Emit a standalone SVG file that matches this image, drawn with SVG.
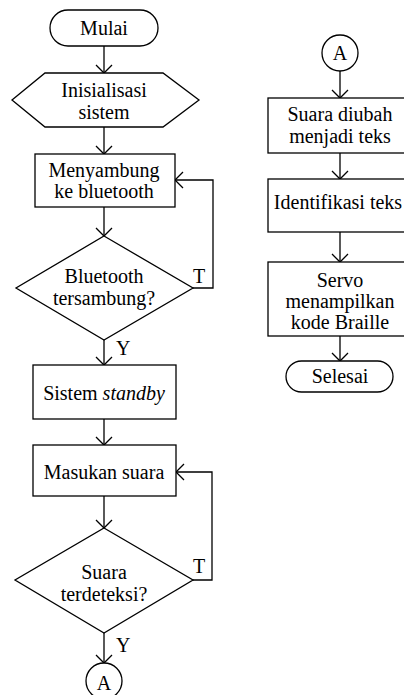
<svg xmlns="http://www.w3.org/2000/svg" width="404" height="695" viewBox="0 0 404 695">
<style>
.s{fill:#fff;stroke:#000;stroke-width:1.3}
.c{fill:none;stroke:#000;stroke-width:1.3}
text{font-family:"Liberation Serif","Times New Roman",serif;font-size:20px;fill:#000}
.m{text-anchor:middle}
</style>
<defs>
<marker id="arr" markerUnits="userSpaceOnUse" markerWidth="20" markerHeight="20" refX="10" refY="10" orient="auto">
<path d="M2,2 L10,10 L2,18" fill="none" stroke="#000" stroke-width="1.3"/>
</marker>
</defs>
<rect width="404" height="695" fill="#fff"/>
<g id="connectors">
<path class="c" d="M104,46 V73" marker-end="url(#arr)"/>
<path class="c" d="M104,127 V154" marker-end="url(#arr)"/>
<path class="c" d="M104,207 V236" marker-end="url(#arr)"/>
<path class="c" d="M193,288 H213 V180 H175" marker-end="url(#arr)"/>
<path class="c" d="M104,340 V365" marker-end="url(#arr)"/>
<path class="c" d="M104,419 V445" marker-end="url(#arr)"/>
<path class="c" d="M104,496 V528" marker-end="url(#arr)"/>
<path class="c" d="M193,580 H212 V472 H176" marker-end="url(#arr)"/>
<path class="c" d="M104,633 V663" marker-end="url(#arr)"/>
<path class="c" d="M340,71 V98" marker-end="url(#arr)"/>
<path class="c" d="M340,153 V179" marker-end="url(#arr)"/>
<path class="c" d="M340,232 V262" marker-end="url(#arr)"/>
<path class="c" d="M340,336 V361" marker-end="url(#arr)"/>
<text x="193" y="283">T</text>
<text x="116" y="355">Y</text>
<text x="193" y="573">T</text>
<text x="116" y="652">Y</text>
</g>
<g id="mulai">
<rect class="s" x="50" y="10" width="108" height="36" rx="18"/>
<text class="m" x="104" y="35">Mulai</text>
</g>
<g id="inisialisasi">
<polygon class="s" points="12,100 45,73 163,73 199,100 163,127 45,127"/>
<text class="m" x="104" y="97">Inisialisasi</text>
<text class="m" x="104" y="119">sistem</text>
</g>
<g id="menyambung">
<rect class="s" x="35" y="154" width="140" height="53"/>
<text class="m" x="104" y="177">Menyambung</text>
<text class="m" x="104" y="198">ke bluetooth</text>
</g>
<g id="cek-bluetooth">
<polygon class="s" points="104,236 193,288 104,340 16,288"/>
<text class="m" x="104" y="283">Bluetooth</text>
<text class="m" x="104" y="305">tersambung?</text>
</g>
<g id="standby">
<rect class="s" x="33" y="365" width="143" height="54"/>
<text class="m" x="104" y="400">Sistem <tspan font-style="italic">standby</tspan></text>
</g>
<g id="masukan">
<rect class="s" x="33" y="445" width="143" height="51"/>
<text class="m" x="104" y="479">Masukan suara</text>
</g>
<g id="cek-suara">
<polygon class="s" points="104,528 193,580 104,633 15,580"/>
<text class="m" x="104" y="579">Suara</text>
<text class="m" x="104" y="601">terdeteksi?</text>
</g>
<g id="konektor-a1">
<circle class="s" cx="104" cy="681" r="18"/>
<text class="m" x="104" y="690">A</text>
</g>
<g id="konektor-a2">
<circle class="s" cx="340" cy="53" r="18"/>
<text class="m" x="340" y="60">A</text>
</g>
<g id="ubah-teks">
<rect class="s" x="268" y="98" width="144" height="55"/>
<text class="m" x="340" y="121">Suara diubah</text>
<text class="m" x="340" y="143">menjadi teks</text>
</g>
<g id="identifikasi">
<rect class="s" x="268" y="179" width="144" height="53"/>
<text class="m" x="338" y="209">Identifikasi teks</text>
</g>
<g id="servo">
<rect class="s" x="268" y="262" width="144" height="74"/>
<text class="m" x="340" y="287">Servo</text>
<text class="m" x="340" y="308">menampilkan</text>
<text class="m" x="340" y="329">kode Braille</text>
</g>
<g id="selesai">
<rect class="s" x="286" y="361" width="107" height="31" rx="15.5"/>
<text class="m" x="340" y="383">Selesai</text>
</g>
</svg>
